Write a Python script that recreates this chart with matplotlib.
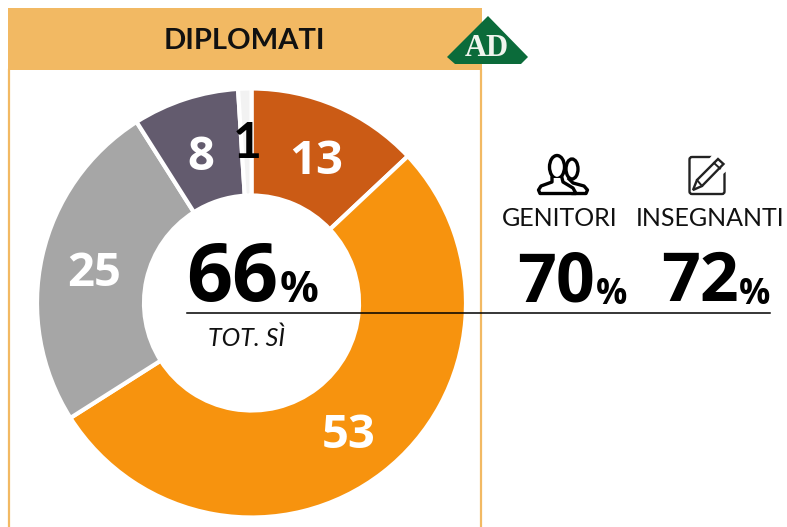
import matplotlib
matplotlib.use("Agg")
import matplotlib.pyplot as plt
from matplotlib.patches import Rectangle, Polygon, Ellipse, FancyBboxPatch

plt.rcParams['font.family'] = ['Lato', 'DejaVu Sans']
NUM = 'Open Sans'

categories = ['A', 'B', 'C', 'D', 'E']
values = [13, 53, 25, 8, 1]
colors = ['#CB5B15', '#F7930E', '#A6A6A6', '#635B6E', '#F2F2F2']
label_colors = ['white', 'white', 'white', 'white', 'black']
label_fonts = [NUM, NUM, NUM, NUM, 'Lato']
label_sizes = [34, 34, 34, 34, 36]
label_pos = [(316, 161), (349, 435), (94, 273), (201, 157), (247, 144)]
title = 'DIPLOMATI'
total = '66'
total_label = 'TOT. SÌ'
groups = ['GENITORI', 'INSEGNANTI']
group_values = ['70', '72']

W, H = 787, 527
fig = plt.figure(figsize=(W / 100, H / 100), dpi=100, facecolor='white')
ax = fig.add_axes([0, 0, 1, 1])

band = '#F2B963'
ax.add_patch(Rectangle((8, 8), 474, 62, fc=band, ec='none', zorder=1))
ax.plot([8.5, 8.5], [70, H], color=band, lw=1.6, zorder=1)
ax.plot([481, 481], [70, H], color=band, lw=1.6, zorder=1)
ax.text(244, 41, title, ha='center', va='center', fontsize=21, fontweight='bold', color='#111111', zorder=5)

# logo
ax.add_patch(Polygon([(488, 16), (528, 57), (521, 64), (455, 64), (447, 57)], closed=True, fc='#0B6B3A', ec='none', zorder=4))
ax.text(487, 49, 'AD', ha='center', va='center', fontsize=22, fontweight='bold', family='Liberation Serif', color='#F0F5EE', zorder=5)

# donut: the y axis is inverted, so counterclock=True reads clockwise on screen
wedges, _ = ax.pie(values, colors=colors, startangle=-90, counterclock=True,
                   center=(251.5, 303), radius=214.5, frame=True,
                   wedgeprops=dict(width=107, edgecolor='white', linewidth=3))
ax.set_xlim(0, W)
ax.set_ylim(H, 0)
ax.set_aspect('equal')
ax.axis('off')
for w in wedges:
    w.set_zorder(2)

for v, c, f, s, (x, y) in zip(values, label_colors, label_fonts, label_sizes, label_pos):
    ax.text(x, y, str(v), ha='center', va='center', fontsize=s, fontweight='bold', family=f, color=c, zorder=6)

# center
ax.text(232, 280.5, total, ha='center', va='center', fontsize=58, fontweight='bold', family=NUM, color='black', zorder=6)
ax.text(299.5, 290.5, '%', ha='center', va='center', fontsize=31, fontweight='bold', family=NUM, color='black', zorder=6)
ax.text(247, 338, total_label, ha='center', va='center', fontsize=18, style='italic', color='#111111', zorder=6)
ax.plot([187, 770], [313, 313], color='black', lw=1.1, zorder=7)

# right columns
ax.text(559.5, 219, groups[0], ha='center', va='center', fontsize=18, color='#111111', zorder=6)
ax.text(710, 219, groups[1], ha='center', va='center', fontsize=18, color='#111111', zorder=6)
ax.text(556, 283, group_values[0], ha='center', va='center', fontsize=49, fontweight='bold', family=NUM, color='black', zorder=6)
ax.text(612, 295, '%', ha='center', va='center', fontsize=25, fontweight='bold', family=NUM, color='black', zorder=6)
ax.text(700, 283, group_values[1], ha='center', va='center', fontsize=49, fontweight='bold', family=NUM, color='black', zorder=6)
ax.text(755, 295, '%', ha='center', va='center', fontsize=25, fontweight='bold', family=NUM, color='black', zorder=6)

# people icon
lw = 2.4
ax.add_patch(Ellipse((572, 169), 12, 20, fc='white', ec='black', lw=lw, zorder=6))
ax.plot([569, 573, 584, 587.5, 586, 573],
        [179, 183, 186, 190, 193.5, 193.5], color='black', lw=lw, solid_joinstyle='round', zorder=6)
ax.add_patch(Ellipse((557, 167), 15, 23, fc='white', ec='black', lw=lw, zorder=7))
ax.add_patch(Polygon([(552, 178), (562, 178), (564, 184), (574, 192), (541, 192), (552, 184)], closed=True, fc='white', ec='none', zorder=7))
ax.plot([552, 552, 541, 538.5, 540, 576, 573, 563, 562],
        [178, 182, 186, 190, 193.5, 193.5, 188, 182, 178], color='black', lw=lw, solid_joinstyle='round', zorder=8)

# note/pencil icon
ax.add_patch(FancyBboxPatch((689.5, 157), 35, 37, boxstyle='round,pad=0,rounding_size=2.5', fc='none', ec='#222222', lw=1.7, zorder=6))
ax.add_patch(Polygon([(713, 154), (728, 154), (728, 170), (703, 190), (692, 191), (694, 178)], closed=True, fc='white', ec='none', zorder=6.5))
ax.add_patch(Polygon([(718, 159), (723.5, 164), (702, 186), (693, 190), (697, 180)], closed=True, fc='white', ec='#222222', lw=1.7, zorder=7))
ax.plot([714, 720], [163, 168.5], color='#222222', lw=1.4, zorder=7)
ax.plot([697, 702], [180, 186], color='#222222', lw=1.4, zorder=7)

fig.savefig('out.png', dpi=100)
